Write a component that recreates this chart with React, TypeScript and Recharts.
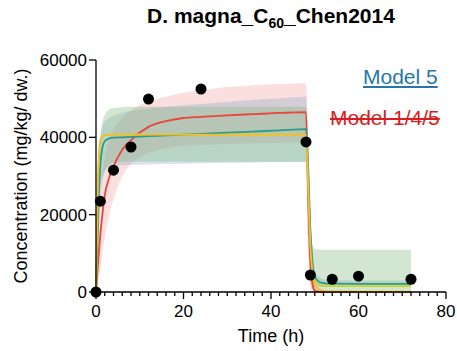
import { ComposedChart, Area, Line, Scatter, XAxis, YAxis, Label } from "recharts";

// model time grid (h)
const times = [0, 0.25, 0.5, 1, 1.5, 2, 3, 4, 6, 8, 12, 16, 20, 24, 30, 36, 42, 48, 48.5, 49, 49.5, 50, 51, 52, 54, 60, 66, 72];

const redLine = [0, 4000, 8000, 15000, 20500, 25000, 29500, 32500, 36800, 39300, 42700, 44200, 45000, 45300, 45700, 46000, 46300, 46500, 25000, 8000, 2000, 400, 50, 0, 0, 0, 0, 0];
const tealLine = [0, 9000, 20000, 33000, 37500, 39000, 39700, 39900, 40000, 40100, 40300, 40500, 40700, 40900, 41200, 41500, 41800, 42100, 32000, 16000, 7500, 4000, 2600, 2300, 2150, 2100, 2100, 2100];
const yellowLine = [0, 15000, 30000, 39000, 40300, 40600, 40700, 40700, 40700, 40700, 40700, 40700, 40700, 40700, 40700, 40700, 40700, 40700, 28000, 12000, 5000, 2000, 700, 300, 150, 100, 100, 100];
const limeLine = [0, 15000, 30000, 39000, 40300, 40600, 40700, 40700, 40700, 40700, 40700, 40700, 40700, 40700, 40700, 40700, 40700, 40700, 29000, 14000, 6000, 3000, 1900, 1600, 1500, 1500, 1500, 1500];

const pinkHigh = [0, 8000, 15000, 26000, 31000, 35000, 39500, 42000, 45000, 47000, 49200, 50500, 51500, 52200, 53000, 53500, 53800, 54000, 40000, 20000, 8000, 3000, 800, 300, 200, 200, 200, 200];
const pinkLow = [0, 1000, 2500, 6000, 10000, 14000, 20000, 24000, 30000, 33000, 36000, 37200, 37800, 38000, 38300, 38500, 38600, 38700, 12000, 1000, 0, 0, 0, 0, 0, 0, 0, 0];
const blueHigh = [0, 18000, 30000, 40000, 43000, 44000, 45000, 45500, 46300, 46800, 47400, 47900, 48300, 48600, 49200, 49700, 50100, 50500, 38000, 20000, 10000, 5500, 3800, 3300, 3100, 3000, 3000, 3000];
const blueLow = [0, 5000, 12000, 24000, 29000, 31000, 32300, 32600, 32800, 32900, 33000, 33100, 33200, 33300, 33400, 33500, 33600, 33700, 14000, 4000, 1500, 1300, 1300, 1300, 1300, 1300, 1300, 1300];
const greenHigh = [0, 5000, 18000, 39000, 44000, 45800, 47200, 47600, 47800, 47900, 47900, 47900, 47900, 47900, 47900, 47900, 47900, 47900, 30000, 17000, 12500, 11200, 10900, 10900, 10900, 10900, 10900, 10900];
const greenLow = [0, 4000, 14000, 28000, 30000, 31500, 33000, 33500, 33700, 33700, 33700, 33700, 33700, 33700, 33700, 33700, 33700, 33700, 12000, 3000, 700, 200, 0, 0, 0, 0, 0, 0];

// observed data
const obsTime = [0, 1, 4, 8, 12, 24, 48, 49, 54, 60, 72];
const obsConc = [0, 23500, 31500, 37500, 49900, 52500, 38800, 4400, 3300, 4100, 3300];

const xTicks = [0, 2, 4, 6, 8, 10, 12, 14, 16, 18, 20, 22, 24, 26, 28, 30, 32, 34, 36, 38, 40, 42, 44, 46, 48, 50, 52, 54, 56, 58, 60, 62, 64, 66, 68, 70, 72, 74, 76, 78, 80];
const yTicks = [0, 20000, 40000, 60000];

const modelRows = times.map((t, i) => ({
  t,
  red: redLine[i],
  teal: tealLine[i],
  yellow: yellowLine[i],
  lime: limeLine[i],
  pink: [pinkLow[i], pinkHigh[i]],
  blue: [blueLow[i], blueHigh[i]],
  green: [greenLow[i], greenHigh[i]],
}));

const obsRows = obsTime.map((t, i) => ({ t, c: obsConc[i] }));

const font = "'Liberation Sans', Arial, Helvetica, sans-serif";

const XTick = ({ x, y, payload }: any) => {
  const major = payload.value % 20 === 0;
  return (
    <g>
      <line x1={x} x2={x} y1={y} y2={y + (major ? 7 : 4)} stroke="#000" strokeWidth={1.3} />
      {major && (
        <text x={x} y={y + 25} textAnchor="middle" fontSize={17} fontFamily={font} fill="#000">
          {payload.value}
        </text>
      )}
    </g>
  );
};

export default function App() {
  return (
    <div style={{ position: "absolute", left: 0, top: 0, width: 457, height: 351, background: "#fff", fontFamily: font }}>
      <div style={{ position: "absolute", left: 0, width: 542, top: 4, textAlign: "center", fontWeight: "bold", fontSize: 21 }}>
        D. magna_C<sub style={{ fontSize: 14 }}>60</sub>_Chen2014
      </div>
      <ComposedChart width={457} height={351} data={modelRows} margin={{ top: 60, right: 11, left: 0, bottom: 0 }}>
        <XAxis
          dataKey="t"
          type="number"
          domain={[0, 80]}
          ticks={xTicks}
          interval={0}
          tick={<XTick />}
          tickLine={false}
          tickSize={0}
          tickMargin={0}
          height={59}
          stroke="#000"
          strokeWidth={1.3}
        >
          <Label value="Time (h)" position="insideBottom" offset={9} fontSize={18} fontFamily={font} fill="#000" />
        </XAxis>
        <YAxis
          type="number"
          domain={[0, 60000]}
          ticks={yTicks}
          width={96}
          tickSize={7}
          tick={{ fontSize: 17, fontFamily: font, fill: "#000" }}
          stroke="#000"
          strokeWidth={1.3}
        >
          <Label value="Concentration (mg/kg/ dw.)" angle={-90} position="insideLeft" offset={21} fontSize={18} fontFamily={font} fill="#000" style={{ textAnchor: "middle" }} />
        </YAxis>
        <Area dataKey="pink" type="monotone" stroke="none" fill="#f4a0a0" fillOpacity={0.35} isAnimationActive={false} />
        <Area dataKey="blue" type="monotone" stroke="none" fill="#8fb0c8" fillOpacity={0.35} isAnimationActive={false} />
        <Area dataKey="green" type="monotone" stroke="none" fill="#7fb87a" fillOpacity={0.35} isAnimationActive={false} />
        <Line dataKey="red" type="monotone" stroke="#e8453c" strokeWidth={1.8} dot={false} isAnimationActive={false} />
        <Line dataKey="lime" type="monotone" stroke="#c8d62c" strokeWidth={1.8} dot={false} isAnimationActive={false} />
        <Line dataKey="teal" type="monotone" stroke="#2a9a8c" strokeWidth={1.8} dot={false} isAnimationActive={false} />
        <Line dataKey="yellow" type="monotone" stroke="#f7bd2a" strokeWidth={1.8} dot={false} isAnimationActive={false} />
        <Scatter data={obsRows} dataKey="c" fill="#000" shape={(p: any) => <circle cx={p.cx} cy={p.cy} r={5.5} fill="#000" />} isAnimationActive={false} />
      </ComposedChart>
      <div style={{ position: "absolute", left: 363, top: 65, fontSize: 21, color: "#2678a8", textDecoration: "underline" }}>Model 5</div>
      <div style={{ position: "absolute", left: 330, top: 106, fontSize: 21, color: "#d81e1e", textDecoration: "line-through" }}>Model 1/4/5</div>
    </div>
  );
}
